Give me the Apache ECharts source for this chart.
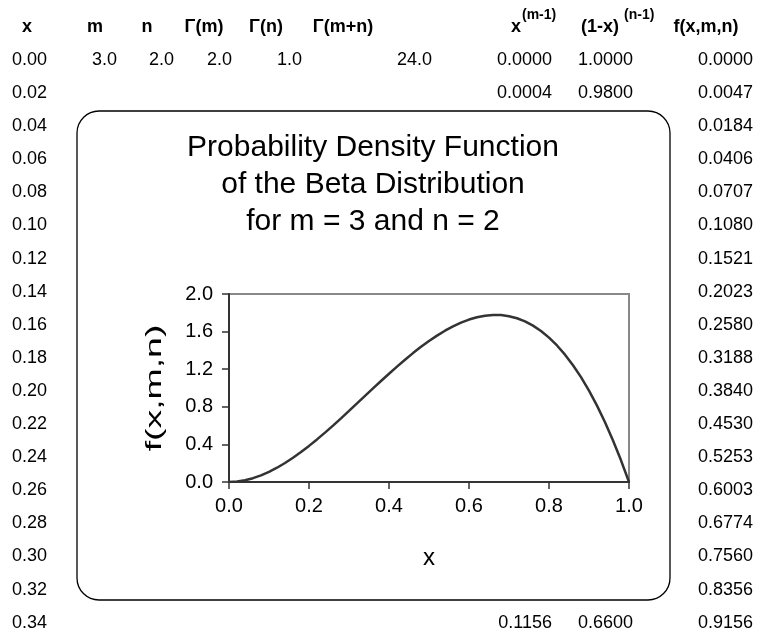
<!DOCTYPE html>
<html><head><meta charset="utf-8">
<script src="https://cdn.jsdelivr.net/npm/echarts@6/dist/echarts.min.js"></script>
<style>html,body{margin:0;padding:0;background:#fff}#c{width:765px;height:636px}</style>
</head><body><div id="c"></div>
<script>
// ---- data ----
var rowX = ['0.00','0.02','0.04','0.06','0.08','0.10','0.12','0.14','0.16','0.18','0.20','0.22','0.24','0.26','0.28','0.30','0.32','0.34'];
var rowF = ['0.0000','0.0047','0.0184','0.0406','0.0707','0.1080','0.1521','0.2023','0.2580','0.3188','0.3840','0.4530','0.5253','0.6003','0.6774','0.7560','0.8356','0.9156'];
var paramVals = ['3.0','2.0','2.0','1.0','24.0'];          // m, n, Γ(m), Γ(n), Γ(m+n)
var powXRows = {0:'0.0000', 1:'0.0004', 17:'0.1156'};        // x^(m-1)
var pow1mXRows = {0:'1.0000', 1:'0.9800', 17:'0.6600'};      // (1-x)^(n-1)
var curveX = [0,0.02,0.04,0.06,0.08,0.10,0.12,0.14,0.16,0.18,0.20,0.22,0.24,0.26,0.28,0.30,0.32,0.34,0.36,0.38,0.40,0.42,0.44,0.46,0.48,0.50,0.52,0.54,0.56,0.58,0.60,0.62,0.64,0.66,0.68,0.70,0.72,0.74,0.76,0.78,0.80,0.82,0.84,0.86,0.88,0.90,0.92,0.94,0.96,0.98,1.00];
var curveF = [0,0.0047,0.0184,0.0406,0.0707,0.1080,0.1521,0.2023,0.2580,0.3188,0.3840,0.4530,0.5253,0.6003,0.6774,0.7560,0.8356,0.9156,0.9953,1.0743,1.152,1.2277,1.3010,1.3712,1.4377,1.5,1.5575,1.6096,1.6558,1.6955,1.728,1.7529,1.7695,1.7772,1.7756,1.764,1.7418,1.7085,1.6635,1.6062,1.536,1.4524,1.3548,1.2425,1.1151,0.972,0.8125,0.6362,0.4424,0.2305,0];
var xTicks = [0,0.2,0.4,0.6,0.8,1.0];
var yTicks = [0,0.4,0.8,1.2,1.6,2.0];

// ---- layout ----
var FONT = '"Liberation Sans", Arial, sans-serif';
var FS = 18;
var rowY0 = 60, rowDy = 33.1;
var g = [];
function txt(x, y, s, align, opts) {
  opts = opts || {};
  g.push({type:'text', x:x, y:y, z:10, style:{text:s, fill:'#000', font:(opts.bold?'bold ':'')+(opts.size||FS)+'px '+FONT, textAlign:align||'right', textVerticalAlign:opts.va||'middle'}});
}
// header
var hy = 27;
txt(27, hy, 'x', 'center', {bold:true});
txt(95, hy, 'm', 'center', {bold:true});
txt(147, hy, 'n', 'center', {bold:true});
txt(204, hy, 'Γ(m)', 'center', {bold:true});
txt(266, hy, 'Γ(n)', 'center', {bold:true});
txt(343, hy, 'Γ(m+n)', 'center', {bold:true});
txt(511, hy, 'x', 'left', {bold:true});
txt(522, hy-12, '(m-1)', 'left', {bold:true, size:14});
txt(581, hy, '(1-x)', 'left', {bold:true});
txt(624, hy-12, '(n-1)', 'left', {bold:true, size:14});
txt(706, hy, 'f(x,m,n)', 'center', {bold:true});
// rows
var paramRight = [117, 174, 232, 302, 432];
for (var i = 0; i < rowX.length; i++) {
  var y = rowY0 + rowDy * i;
  txt(47, y, rowX[i], 'right');
  txt(753, y, rowF[i], 'right');
  if (powXRows[i] !== undefined) txt(552, y, powXRows[i], 'right');
  if (pow1mXRows[i] !== undefined) txt(633, y, pow1mXRows[i], 'right');
}
for (var j = 0; j < paramVals.length; j++) txt(paramRight[j], rowY0, paramVals[j], 'right');

// chart box
g.push({type:'rect', z:5, shape:{x:77, y:111, width:593, height:489, r:22}, style:{fill:'#fff', stroke:'#000', lineWidth:1.3}});
// title
g.push({type:'text', x:373, y:185, z:10, style:{text:'Probability Density Function\nof the Beta Distribution\nfor m = 3 and n = 2', fill:'#000', font:'30px '+FONT, textAlign:'center', textVerticalAlign:'middle', lineHeight:37}});
// y axis title (stretched along its length like the source)
g.push({type:'text', x:155, y:388, z:10, rotation:Math.PI/2, scaleX:1.7, style:{text:'f(x,m,n)', fill:'#000', font:'22px '+FONT, textAlign:'center', textVerticalAlign:'middle'}});

var chart = echarts.init(document.getElementById('c'), null, {renderer:'canvas'});
chart.setOption({
  animation:false,
  backgroundColor:'#fff',
  graphic:g,
  grid:{left:229, top:294, width:400, height:188, show:true, borderColor:'#888', borderWidth:2, z:20},
  xAxis:{type:'value', min:xTicks[0], max:xTicks[xTicks.length-1], interval:0.2, z:21,
    name:'x', nameLocation:'middle', nameGap:64, nameTextStyle:{fontSize:24, fontFamily:FONT, color:'#000'},
    axisLine:{lineStyle:{color:'#333', width:2}}, axisTick:{length:7, lineStyle:{color:'#333', width:1.5}},
    axisLabel:{fontSize:20, fontFamily:FONT, color:'#000', margin:14, formatter:function(v){return v.toFixed(1);}},
    splitLine:{show:false}},
  yAxis:{type:'value', min:yTicks[0], max:yTicks[yTicks.length-1], interval:0.4, z:21,
    axisLine:{lineStyle:{color:'#333', width:2}}, axisTick:{length:7, lineStyle:{color:'#333', width:1.5}},
    axisLabel:{fontSize:20, fontFamily:FONT, color:'#000', margin:16, formatter:function(v){return v.toFixed(1);}},
    splitLine:{show:false}},
  series:[{type:'line', z:22, showSymbol:false, data:curveX.map(function(x,i){return [x, curveF[i]];}), lineStyle:{color:'#333', width:2.5}}]
});
</script></body></html>
